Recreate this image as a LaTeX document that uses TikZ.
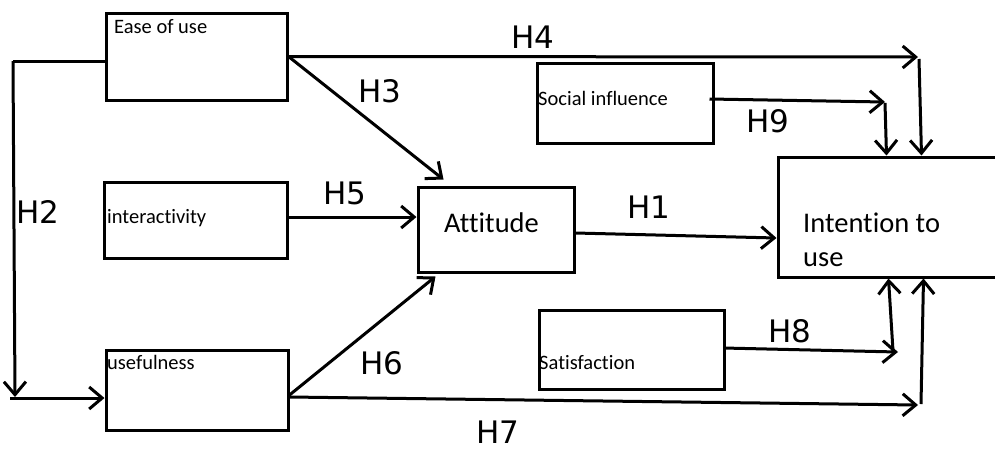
\documentclass[tikz,border=0pt]{standalone}
\usepackage{fontspec}
\setmainfont[Ligatures=NoCommon]{Carlito}
\newfontfamily\handfont{DejaVu Sans}
\usetikzlibrary{arrows.meta}
\tikzset{
  x=1pt, y=-1pt,
  box/.style={draw=black, line width=3pt, rectangle, inner sep=0pt},
  boxtext/.style={anchor=base west, inner sep=0pt, font=\fontsize{20.5}{24}\selectfont, text=black},
  bigtext/.style={anchor=base west, inner sep=0pt, font=\fontsize{28.5}{34}\selectfont, text=black, align=left},
  hyp/.style={inner sep=0pt, font=\handfont\fontsize{31}{31}\selectfont, text=black},
  conn/.style={draw=black, line width=3pt},
  arr/.style={conn, -{Straight Barb[length=13pt,width=22pt]}},
}
\begin{document}
\begin{tikzpicture}
\useasboundingbox (0,0) rectangle (995,451);
\clip (0,0) rectangle (995,451);
\fill[white] (0,0) rectangle (995,451);

% boxes
\node[box, minimum width=181pt, minimum height=87pt] (ease) at (196.5,56.5) {};
\node[box, minimum width=183pt, minimum height=76pt] (inter) at (195.5,220) {};
\node[box, minimum width=182pt, minimum height=80pt] (useful) at (197,390) {};
\node[box, minimum width=156pt, minimum height=85pt] (att) at (496,229.5) {};
\node[box, minimum width=176pt, minimum height=80pt] (social) at (625,103) {};
\node[box, minimum width=185pt, minimum height=79pt] (sat) at (631.5,349.5) {};
\node[box, minimum width=227pt, minimum height=120pt] (intent) at (891.5,217) {};

% box texts
\node[boxtext] (tease) at (114,33) {Ease of use};
\node[boxtext] (tinter) at (107,223) {interactivity};
\node[boxtext] (tuseful) at (107,369) {usefulness};
\node[boxtext] (tsocial) at (538,105) {Social influence};
\node[boxtext] (tsat) at (539,369) {Satisfaction};
\node[bigtext] (tatt) at (444,232) {Attitude};
\node[bigtext] (tint1) at (803,232) {Intention to};
\node[bigtext] (tint2) at (803,266) {use};

% corner coordinates
\coordinate (c2a) at (13,61);
\coordinate (c2b) at (15,397);
\coordinate (c2c) at (10,398);
\coordinate (c4) at (918,57);
\coordinate (c4v) at (919,59);
\coordinate (c9) at (885,102);
\coordinate (c9v) at (885,103);
\coordinate (c8) at (898,352);
\coordinate (c8v) at (893,351);
\coordinate (c7) at (918,405);
\coordinate (c7v) at (921,404);

% H2
\draw[conn] ([yshift=-4.5pt]ease.west) -- (c2a);
\draw[arr] (c2a) -- (c2b);
\draw[arr] (c2c) -- ([yshift=-8pt]useful.west);
% H3
\draw[arr] (ease.east) -- ([xshift=27pt,yshift=6pt]att.north west);
% H4
\draw[arr] (ease.east) -- (c4);
\draw[arr] (c4v) -- ([xshift=145pt]intent.north west);
% H5
\draw[arr] ([yshift=3pt]inter.east) -- ([yshift=12.5pt]att.west);
% H6
\draw[arr] ([yshift=-5pt]useful.east) -- ([xshift=19pt,yshift=-3pt]att.south west);
% H7
\draw[arr] ([yshift=-7pt]useful.east) -- (c7);
\draw[arr] (c7v) -- ([xshift=147pt]intent.south west);
% H1
\draw[arr] ([yshift=-3.5pt]att.east) -- ([yshift=-21pt]intent.west);
% H9
\draw[arr] ([yshift=4pt,xshift=-5pt]social.east) -- (c9);
\draw[arr] (c9v) -- ([xshift=110pt]intent.north west);
% H8
\draw[arr] ([yshift=1.5pt,xshift=-2pt]sat.east) -- (c8);
\draw[arr] (c8v) -- ([xshift=112pt]intent.south west);

% hypothesis labels
\node[hyp] (h1) at (649,207) {H1};
\node[hyp] (h2) at (38,212) {H2};
\node[hyp] (h3) at (380,91) {H3};
\node[hyp] (h4) at (533,37) {H4};
\node[hyp] (h5) at (345,193) {H5};
\node[hyp] (h6) at (382,363) {H6};
\node[hyp] (h7) at (498,432) {H7};
\node[hyp] (h8) at (790,331) {H8};
\node[hyp] (h9) at (768,121) {H9};
\end{tikzpicture}
\end{document}
